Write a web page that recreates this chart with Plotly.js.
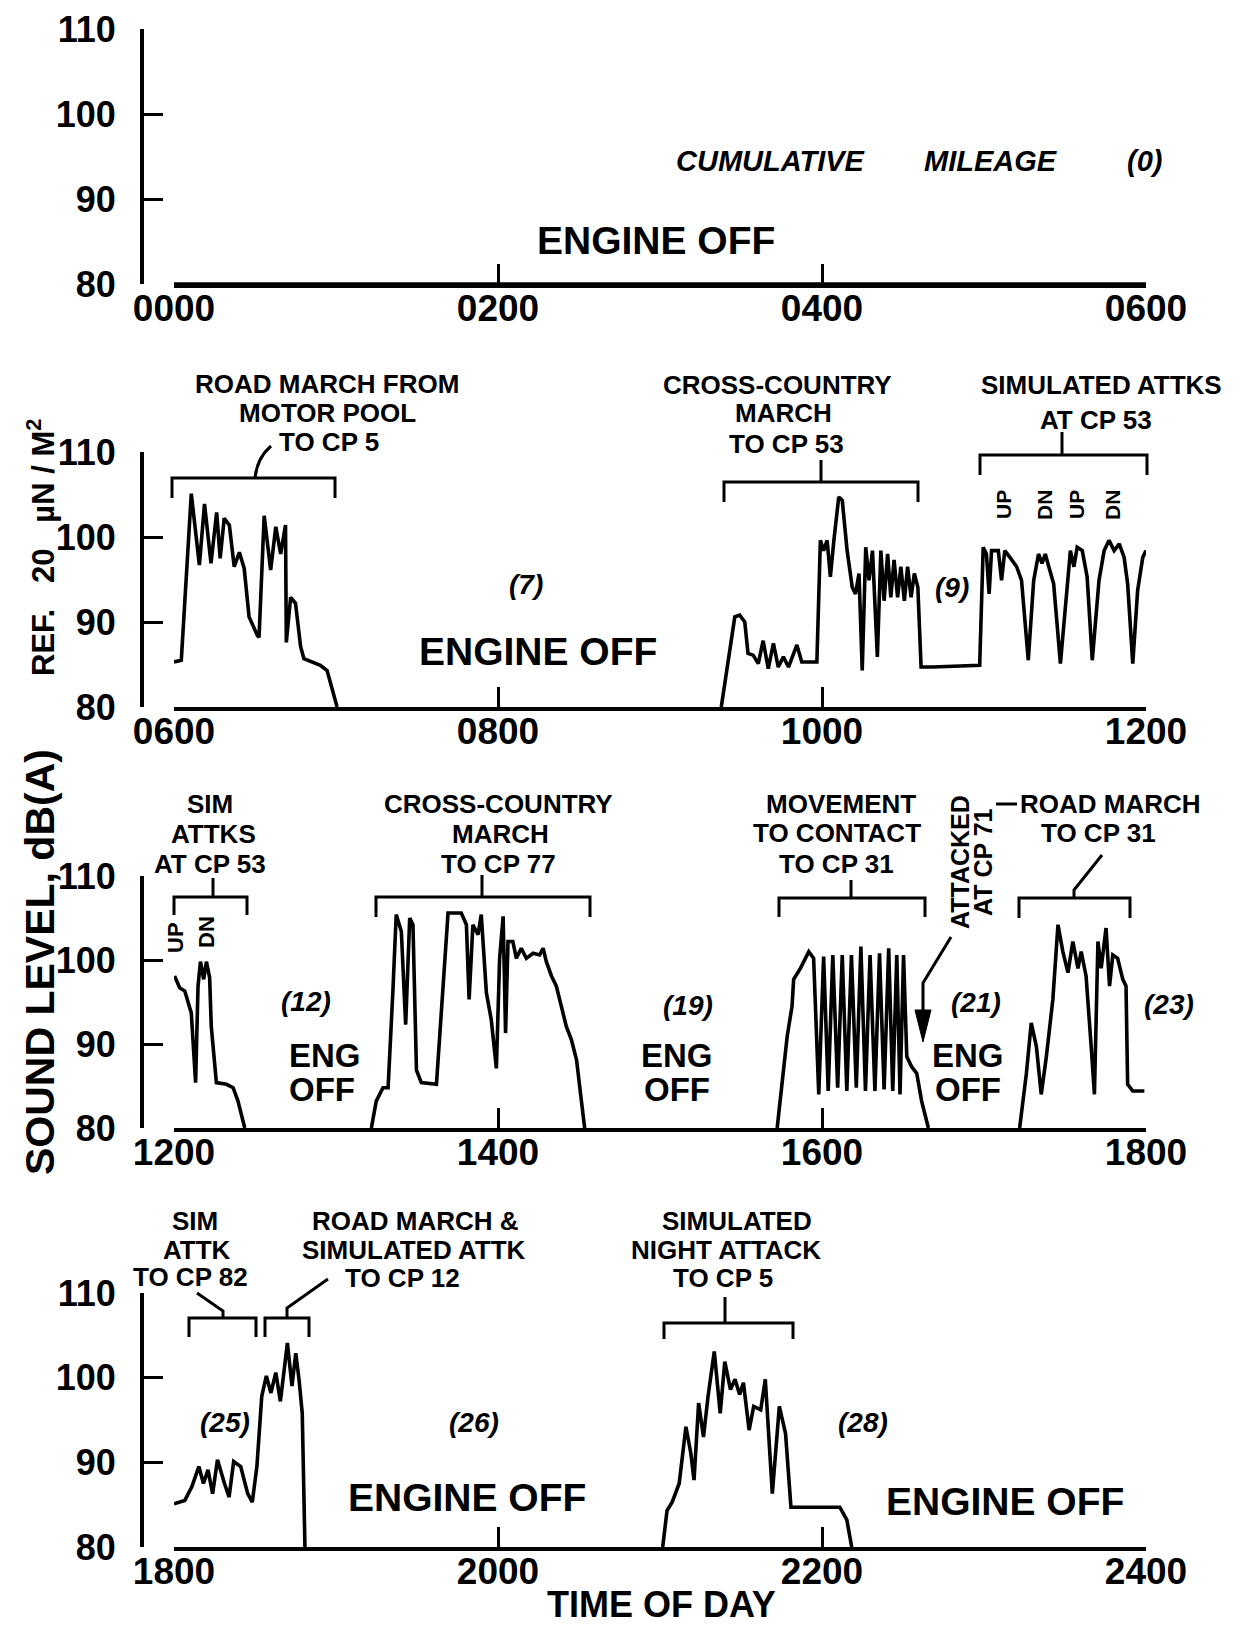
<!DOCTYPE html>
<html>
<head>
<meta charset="utf-8">
<script src="https://cdn.plot.ly/plotly-3.0.1.min.js"></script>
<style>html,body{margin:0;padding:0;background:#fff;}</style>
</head>
<body>
<div id="chart" style="width:1242px;height:1627px;"></div>
<script>
// ---------------- DATA (time in minutes of day, level in dB(A)) ----------------
const panelStart = [0, 360, 720, 1080];
const tickText1 = ["0000", "0200", "0400", "0600"];
const tickText2 = ["0600", "0800", "1000", "1200"];
const tickText3 = ["1200", "1400", "1600", "1800"];
const tickText4 = ["1800", "2000", "2200", "2400"];
const levelTicks = [80, 90, 100, 110];

// 0000-0600 : engine off
const p1Time = [0, 360];
const p1Level = [80, 80];

// 0600-1200
const p2aTime = [360, 362.7, 366.4, 369.4, 371.3, 373.7, 375.8, 377.1, 378.6, 380.5, 382.3, 384.2, 386, 387.8, 390.9, 391.5, 393.4, 395.8, 397.7, 399.5, 401.3, 401.6, 403.2, 405, 406.9, 408.1, 414.2, 416.7, 420.4];
const p2aLevel = [85.3, 85.5, 105.1, 96.7, 103.9, 96.9, 102.9, 97.5, 102.2, 101.4, 96.5, 98.2, 96.3, 90.6, 88.4, 88.2, 102.5, 96.1, 101.2, 98, 101.4, 87.6, 92.9, 92.2, 87.1, 85.7, 84.9, 84.3, 80];
const p2bTime = [562.7, 566.4, 567.7, 569.5, 571.4, 572.6, 574.5, 576.4, 578.2, 580.1, 582, 583.8, 585.7, 587.6, 590.7, 592.5, 598.1, 599.4, 600.6, 601.9, 603.1, 604.4, 606.2, 607.5, 609.3, 611.2, 612.4, 613.7, 614.9, 616.2, 617.4, 618.7, 620.5, 621.8, 623, 624.3, 625.5, 626.7, 628, 629.2, 630.5, 631.7, 633, 634.2, 635.5, 636.7, 641, 658.4, 659.7, 660.9, 661.9, 662.8, 664, 665.3, 666.5, 667.7, 669.6, 672.1, 673.9, 676.4, 678.4, 680.2, 681.5, 682.7, 684, 685.8, 688.3, 690.8, 692, 693.3, 694.5, 696.4, 698.2, 700.1, 702.6, 704.5, 706.3, 708.2, 710.1, 711.9, 713.2, 715.1, 716.9, 718.8, 720];
const p2bLevel = [80, 87.5, 90.6, 90.8, 90, 86.3, 86.1, 85.1, 87.8, 84.5, 87.5, 84.7, 85.9, 84.7, 87.3, 85.3, 85.3, 99.6, 98.4, 99.6, 95.3, 99.6, 104.7, 104.3, 98.4, 94.1, 93.3, 95.7, 84.3, 98.8, 94.9, 98.4, 85.9, 98.4, 92.5, 98, 92.9, 97.3, 92.9, 96.5, 92.5, 96.5, 92.9, 95.7, 94.1, 84.7, 84.7, 84.9, 98.8, 98, 93.3, 98.4, 98.4, 98.4, 94.9, 98.4, 97.6, 96.5, 94.9, 85.5, 94.9, 98, 96.9, 98, 96.5, 94.5, 85.1, 94.5, 98.4, 96.5, 98.8, 98.4, 95.3, 85.5, 94.9, 98.4, 99.6, 98.4, 99.2, 97.6, 94.5, 85.1, 93.7, 97.6, 98.4];

// 1200-1800
const p3aTime = [720.2, 722.1, 724, 726.4, 728, 728.9, 729.8, 731, 732, 733.2, 733.8, 735.7, 739.4, 741.9, 743.7, 746.2];
const p3aLevel = [98.1, 96.7, 96.3, 93.7, 85.4, 96.9, 99.8, 97.7, 99.8, 97.9, 92.1, 85.4, 85.2, 84.8, 83.2, 80];
const p3bTime = [793.1, 794.9, 797.4, 799.3, 801.1, 802.3, 804.2, 805.8, 807.3, 808.5, 809.8, 811.6, 817.2, 819, 821.5, 826.4, 828.3, 829.3, 830.7, 832.6, 833.8, 835.7, 837.5, 839.4, 840.6, 841.9, 842.8, 843.7, 845.5, 846.8, 848.6, 850.5, 853, 855.4, 856.7, 857.9, 859.8, 861.6, 863.5, 865.3, 867.2, 869.1, 870.9, 872.1];
const p3bLevel = [80, 83.2, 84.8, 84.8, 96.5, 105.4, 103.4, 92.3, 105, 104.2, 86.9, 85.4, 85.2, 94.1, 105.6, 105.6, 104.2, 95.3, 104.2, 103, 105.4, 96.1, 92.9, 87.1, 100.2, 105.2, 91.3, 102.2, 102.2, 100.2, 101.4, 100.2, 100.8, 100.6, 101.4, 99.8, 98.1, 96.9, 94.5, 92.1, 90.5, 88.1, 83.2, 80];
const p3cTime = [943.4, 945.8, 947.1, 948.9, 949.5, 952, 953.8, 955.1, 956.9, 958.8, 960.6, 962.3, 964, 965.8, 967.5, 969.2, 970.9, 972.7, 974.4, 976.1, 977.8, 979.6, 981.3, 983, 984.7, 986.2, 987.7, 988.9, 990.2, 991.4, 993.2, 995.1, 996.9, 999.4];
const p3cLevel = [80, 87.3, 90.9, 94.5, 97.7, 99, 100.2, 101, 100.2, 84, 100.4, 84.4, 100.6, 84.8, 100.6, 84.4, 100.6, 84.8, 101.6, 84.4, 100.6, 84.4, 100.8, 84.6, 101.4, 84.4, 100.6, 84, 100.6, 88.5, 87.3, 86.5, 83.2, 80];
const p3dTime = [1033.2, 1035.7, 1037.5, 1039.4, 1041.2, 1043.1, 1045.5, 1047.4, 1049.2, 1051.1, 1052.9, 1054.8, 1056, 1057.8, 1059.7, 1060.9, 1062.2, 1063.4, 1065.2, 1066.5, 1067.7, 1069.5, 1071.4, 1072.6, 1073.2, 1075.1, 1079.4];
const p3dLevel = [80, 86.5, 92.5, 89.7, 84, 88.5, 95.3, 104.2, 101, 98.5, 102.2, 99, 101, 98.1, 89.7, 84, 102.2, 99, 103.8, 96.9, 100.6, 100.2, 97.7, 96.9, 85.2, 84.4, 84.4];

// 1800-2400
const p4aTime = [1080, 1084, 1086.6, 1089.2, 1090.9, 1092.6, 1094.3, 1096.1, 1098.7, 1100.4, 1102.1, 1104.7, 1107.3, 1109, 1110.7, 1112.5, 1114.2, 1115.9, 1117.7, 1119.4, 1121.1, 1122, 1123.7, 1125.1, 1126.3, 1127.5, 1128.5];
const p4aLevel = [85.1, 85.5, 87.1, 89.5, 87.5, 89.1, 86.3, 90.3, 87.5, 85.9, 90.1, 89.5, 86.3, 85.3, 89.5, 97.8, 100.2, 98.2, 100.6, 97.2, 101.7, 104.1, 99, 102.9, 99.8, 95.8, 80];
const p4bTime = [1261, 1262.6, 1264.5, 1267.1, 1269.6, 1271.4, 1272.6, 1274.3, 1276.1, 1277.8, 1280.1, 1282.3, 1284, 1286.1, 1287.8, 1289.5, 1290.9, 1293, 1294.7, 1297.3, 1299, 1301.6, 1304.2, 1306.5, 1308.5, 1313.7, 1326.6, 1329.2, 1331];
const p4bLevel = [80, 84.3, 85.3, 87.5, 94.2, 91.1, 87.9, 97, 93, 97.8, 103.1, 95.8, 101.9, 98.6, 99.8, 98, 99.4, 93.8, 96.6, 96.2, 99.8, 86.3, 96.6, 93.4, 84.7, 84.7, 84.7, 83.2, 80];

// ---------------- LAYOUT HELPERS ----------------
const W = 1242, H = 1627;
const X0 = 174, X1 = 1146, YAX = 141;
const FONT = 'Liberation Sans, Arial, sans-serif';
const panels = [
  {top: 29, bot: 284, ticks: tickText1},
  {top: 452, bot: 707, ticks: tickText2},
  {top: 876, bot: 1128, ticks: tickText3},
  {top: 1293, bot: 1547, ticks: tickText4}
];
const px = x => x / W;
const py = y => 1 - y / H;

const layout = {
  width: W, height: H, autosize: false,
  margin: {l: 0, r: 0, t: 0, b: 0},
  paper_bgcolor: '#ffffff', plot_bgcolor: 'rgba(0,0,0,0)',
  showlegend: false,
  annotations: [], shapes: []
};

panels.forEach((p, i) => {
  const n = i + 1;
  const s = panelStart[i];
  layout['xaxis' + n] = {
    domain: [px(X0), px(X1)], anchor: 'y' + n,
    range: [s, s + 360],
    tickmode: 'array', tickvals: [s, s + 120, s + 240, s + 360], ticktext: p.ticks,
    ticks: 'inside', ticklen: 20, tickwidth: 3, tickcolor: '#000',
    showline: true, linewidth: 3.8, linecolor: '#000',
    showgrid: false, zeroline: false, fixedrange: true,
    ticklabelstandoff: -11,
    tickfont: {family: FONT, size: 37, color: '#000', weight: 700}
  };
  layout['yaxis' + n] = {
    domain: [py(p.bot), py(p.top)], anchor: 'free', position: px(YAX),
    range: [80, 110],
    tickmode: 'array', tickvals: levelTicks, ticktext: levelTicks.map(String),
    ticks: 'inside', ticklen: 19, tickwidth: 3, tickcolor: '#000',
    showline: true, linewidth: 3.8, linecolor: '#000',
    showgrid: false, zeroline: false, fixedrange: true,
    ticklabelstandoff: 17,
    tickfont: {family: FONT, size: 36, color: '#000', weight: 700}
  };
});

function lab(text, x, y, size, extra) {
  const o = Object.assign({
    text: text, xref: 'paper', yref: 'paper', x: px(x), y: py(y),
    xanchor: 'center', yanchor: 'middle', showarrow: false,
    font: {family: FONT, size: size, color: '#000', weight: 700}
  }, extra || {});
  layout.annotations.push(o);
}
function ital(text, x, y, size) {
  lab(text, x, y, size, {font: {family: FONT, size: size, color: '#000', weight: 700, style: 'italic'}});
}
function rot(text, x, y, size) {
  lab(text, x, y, size, {textangle: -90});
}
function lines(arr, x, ys, size) {
  arr.forEach((t, k) => lab(t, x[k], ys[k], size));
}
function path(d, w, fill) {
  const s = {type: 'path', xref: 'paper', yref: 'paper', path: d,
             line: {color: '#000', width: w || 3}};
  if (fill) { s.fillcolor = '#000'; }
  layout.shapes.push(s);
}
const P = (x, y) => px(x).toFixed(5) + ',' + py(y).toFixed(5);
function bracket(x1, x2, y, yEnd, leader) {
  path('M' + P(x1, yEnd) + ' L' + P(x1, y) + ' L' + P(x2, y) + ' L' + P(x2, yEnd));
  if (leader) {
    path('M' + leader.map(q => P(q[0], q[1])).join(' L'));
  }
}

const LS = 26;   // label size
// Panel 1
lab('ENGINE OFF', 656, 240, 39);
ital('CUMULATIVE', 771, 161, 29);
ital('MILEAGE', 991, 161, 29);
ital('(0)', 1144, 161, 29);

// Panel 2
lines(['ROAD MARCH FROM', 'MOTOR POOL', 'TO CP 5'], [327, 327, 329], [384, 413, 442], LS);
bracket(172, 335, 478, 498, null);
path('M' + P(255, 478) + ' Q' + P(257, 458) + ' ' + P(271, 446));
ital('(7)', 526, 584, 28);
lab('ENGINE OFF', 538, 651, 39);
lines(['CROSS-COUNTRY', 'MARCH', 'TO CP 53'], [777, 783, 786], [385, 413, 444], LS);
bracket(724, 918, 482, 502, [[821, 482], [821, 460]]);
ital('(9)', 952, 587, 28);
lines(['SIMULATED ATTKS', 'AT CP 53'], [1101, 1096], [385, 420], LS);
bracket(980, 1147, 455, 475, [[1062, 455], [1062, 432]]);
rot('UP', 1003, 505, 21); rot('DN', 1044, 505, 21);
rot('UP', 1076, 505, 21); rot('DN', 1112, 505, 21);

// Panel 3
lines(['SIM', 'ATTKS', 'AT CP 53'], [210, 214, 210], [804, 834, 864], LS);
bracket(174, 247, 897, 915, [[213, 897], [213, 878]]);
rot('UP', 175, 937, 22); rot('DN', 206, 932, 22);
ital('(12)', 306, 1001, 28);
lab('ENG', 325, 1055, 33); lab('OFF', 322, 1089, 33);
lines(['CROSS-COUNTRY', 'MARCH', 'TO CP 77'], [498, 500, 498], [804, 834, 864], LS);
bracket(376, 590, 897, 917, [[482, 897], [482, 875]]);
ital('(19)', 688, 1005, 28);
lab('ENG', 677, 1055, 33); lab('OFF', 677, 1089, 33);
lines(['MOVEMENT', 'TO CONTACT', 'TO CP 31'], [841, 837, 836], [804, 833, 864], LS);
bracket(779, 925, 898, 917, [[851, 898], [851, 880]]);
rot('ATTACKED', 960, 862, 25);
rot('AT CP 71', 983, 862, 25);
path('M' + P(996, 804) + ' L' + P(1017, 804));
path('M' + P(951, 937) + ' L' + P(923, 983) + ' L' + P(923, 1012));
path('M' + P(915, 1010) + ' L' + P(931, 1010) + ' L' + P(923, 1042) + ' Z', 1, true);
ital('(21)', 976, 1002, 28);
lab('ENG', 968, 1055, 33); lab('OFF', 968, 1089, 33);
lines(['ROAD MARCH', 'TO CP 31'], [1110, 1098], [804, 833], LS);
bracket(1019, 1130, 898, 918, [[1074, 898], [1074, 890], [1102, 855]]);
ital('(23)', 1169, 1004, 28);

// Panel 4
lines(['SIM', 'ATTK', 'TO CP 82'], [195, 197, 190], [1221, 1250, 1277], LS);
bracket(189, 256, 1318, 1337, [[223, 1318], [223, 1311], [197, 1293]]);
lines(['ROAD MARCH &amp;', 'SIMULATED ATTK', 'TO CP 12'], [415, 414, 402], [1221, 1250, 1278], LS);
bracket(265, 309, 1318, 1337, [[287, 1318], [287, 1308], [328, 1279]]);
ital('(25)', 225, 1422, 28);
ital('(26)', 474, 1422, 28);
lab('ENGINE OFF', 467, 1497, 39);
lines(['SIMULATED', 'NIGHT ATTACK', 'TO CP 5'], [737, 726, 723], [1221, 1250, 1278], LS);
bracket(664, 793, 1323, 1339, [[725, 1323], [725, 1297]]);
ital('(28)', 863, 1422, 28);
lab('ENGINE OFF', 1005, 1501, 39);

// Axis titles
lab('TIME OF DAY', 661, 1604, 36);
rot('SOUND LEVEL, dB(A)', 40, 962, 41);
rot('REF.\u00A0\u00A0 20\u00A0\u00A0 \u00B5N\u00A0/\u00A0M<sup>2</sup>', 41, 548, 31);

// ---------------- TRACES ----------------
function tr(x, y, n) {
  return {x: x, y: y, xaxis: 'x' + n, yaxis: 'y' + n, type: 'scatter', mode: 'lines',
          line: {color: '#000', width: 3.6}, hoverinfo: 'skip', showlegend: false};
}
const data = [
  tr(p1Time, p1Level, 1),
  tr(p2aTime, p2aLevel, 2), tr(p2bTime, p2bLevel, 2),
  tr(p3aTime, p3aLevel, 3), tr(p3bTime, p3bLevel, 3), tr(p3cTime, p3cLevel, 3), tr(p3dTime, p3dLevel, 3),
  tr(p4aTime, p4aLevel, 4), tr(p4bTime, p4bLevel, 4)
];

Plotly.newPlot('chart', data, layout, {staticPlot: true, displayModeBar: false});
</script>
</body>
</html>
